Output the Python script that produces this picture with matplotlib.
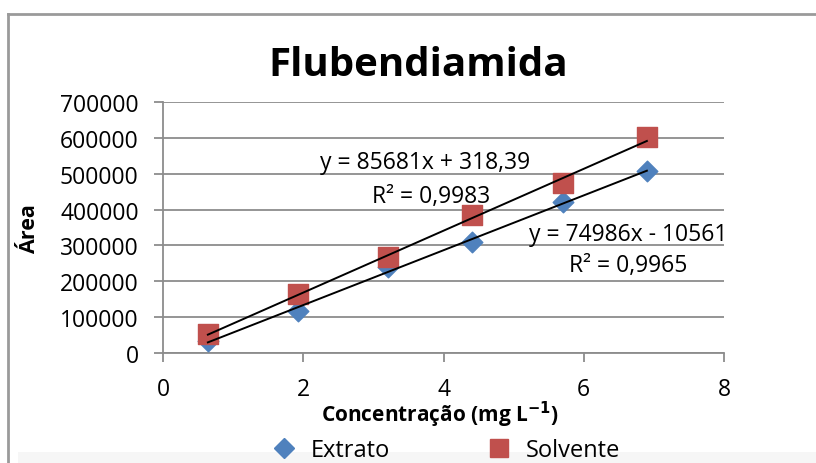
import matplotlib
matplotlib.use("Agg")
import matplotlib.pyplot as plt
import numpy as np
from matplotlib.patches import Rectangle
from matplotlib.lines import Line2D

plt.rcParams['font.family'] = ['Open Sans', 'DejaVu Sans']

conc = [0.64, 1.93, 3.21, 4.40, 5.71, 6.90]
extrato = [33000, 117000, 240000, 309000, 421000, 507000]
solvente = [53000, 164000, 267000, 384000, 473000, 601000]
eq_solv = ["y = 85681x + 318,39", "R² = 0,9983"]
eq_extr = ["y = 74986x - 10561", "R² = 0,9965"]

fig = plt.figure(figsize=(8.16, 4.64), dpi=100)
W, H = 816, 464
# light band at bottom
fig.patches.append(Rectangle((18/W, 0), 1, 11/H, transform=fig.transFigure,
                             facecolor='#f6f6f6', edgecolor='none'))
# outer frame (left and top)
fig.lines.append(Line2D([8/W, 8/W], [0, 1-14.5/H], transform=fig.transFigure, color='#9a9a9a', lw=2))
fig.lines.append(Line2D([8/W, 1], [1-14.5/H, 1-14.5/H], transform=fig.transFigure, color='#9a9a9a', lw=2))

ax = fig.add_axes([163/W, 1-354/H, 561/W, 251/H])

ax.set_xlim(0, 8)
ax.set_ylim(0, 700000)
ax.set_xticks([0, 2, 4, 6, 8])
ax.set_yticks(range(0, 700001, 100000))
ax.yaxis.grid(True, color='#8c8c8c', lw=1.3)
ax.set_axisbelow(True)
for s in ['top', 'right']:
    ax.spines[s].set_visible(False)
for s in ['left', 'bottom']:
    ax.spines[s].set_color('#8c8c8c')
    ax.spines[s].set_linewidth(1.3)
ax.tick_params(axis='both', direction='out', length=6.5, color='#8c8c8c', labelsize=16.5, width=1.3)
ax.tick_params(axis='y', pad=11)
ax.tick_params(axis='x', pad=11)

ax.scatter(conc, extrato, marker='D', s=110, color='#4f81bd', zorder=3, label='Extrato')
ax.scatter(conc, solvente, marker='s', s=190, color='#c0504d', zorder=3, label='Solvente')

x = np.array(conc)
for ys in (extrato, solvente):
    m, b = np.polyfit(x, ys, 1)
    ax.plot([x[0], x[-1]], [m*x[0]+b, m*x[-1]+b], color='black', lw=1.4, zorder=4)

fs = 16.5
ax.text(3.73, 532000, eq_solv[0], ha='center', va='center', fontsize=fs, zorder=5)
ax.text(3.82, 437000, eq_solv[1], ha='center', va='center', fontsize=fs, zorder=5)
ax.text(6.63, 331000, eq_extr[0], ha='center', va='center', fontsize=fs, zorder=5)
ax.text(6.63, 245000, eq_extr[1], ha='center', va='center', fontsize=fs, zorder=5)

fig.text(418/W, 1-66/H, 'Flubendiamida', ha='center', va='center', fontsize=29, fontweight='bold')
fig.text(440/W, 1-415/H, 'Concentração (mg L$^{\\mathbf{-1}}$)', ha='center', va='center',
         fontsize=15, fontweight='bold')
fig.text(30/W, 1-229/H, 'Área', rotation=90, ha='center', va='center', fontsize=15.5, fontweight='bold')

handles = [Line2D([], [], marker='D', ls='', color='#4f81bd', markersize=10),
           Line2D([], [], marker='s', ls='', color='#c0504d', markersize=13)]
fig.legend(handles, ['Extrato', 'Solvente'], loc='center', bbox_to_anchor=(440/W, 1-451/H),
           ncol=2, frameon=False, fontsize=17, columnspacing=3.6, handletextpad=0.15)

fig.savefig('out.png', dpi=100)
